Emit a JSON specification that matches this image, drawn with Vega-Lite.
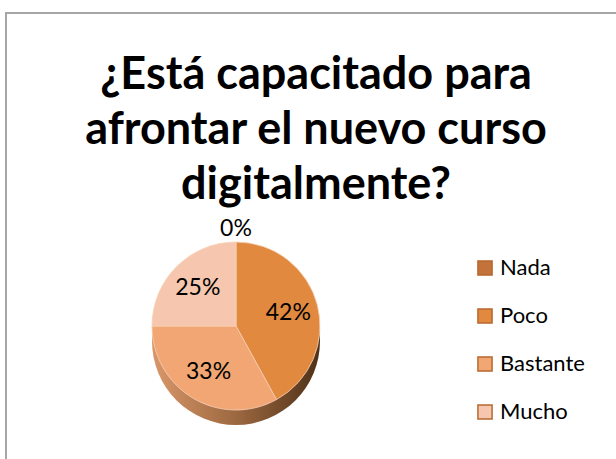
{
  "$schema": "https://vega.github.io/schema/vega-lite/v6.json",
  "width": 620,
  "height": 450,
  "autosize": {"type": "none"},
  "padding": {"left": 6, "top": 13, "right": 0, "bottom": 0},
  "background": "white",
  "view": {"stroke": "#a6a6a6", "strokeWidth": 2, "fill": "white"},
  "config": {
    "font": "Lato"
  },
  "title": {
    "text": ["¿Está capacitado para", "afrontar el nuevo curso", "digitalmente?"],
    "font": "Lato",
    "fontSize": 45,
    "fontWeight": "bold",
    "color": "#000000",
    "lineHeight": 55,
    "anchor": "middle",
    "frame": "group",
    "orient": "top",
    "baseline": "top",
    "offset": -195
  },
  "data": {
    "values": [
      {"answer": "Nada", "value": 0, "order": 1},
      {"answer": "Poco", "value": 0.42, "order": 2},
      {"answer": "Bastante", "value": 0.33, "order": 3},
      {"answer": "Mucho", "value": 0.25, "order": 4}
    ]
  },
  "layer": [
    {
      "transform": [{"aggregate": [{"op": "sum", "field": "value", "as": "total"}]}],
      "mark": {
        "type": "arc",
        "radius": 84,
        "x": 230,
        "y": 328,
        "color": {
          "gradient": "linear",
          "x1": 0, "y1": 0, "x2": 1, "y2": 0,
          "stops": [
            {"offset": 0, "color": "#d9976a"},
            {"offset": 0.5, "color": "#9c6840"},
            {"offset": 1, "color": "#4f3118"}
          ]
        }
      },
      "encoding": {
        "theta": {"field": "total", "type": "quantitative", "stack": true}
      }
    },
    {
      "mark": {"type": "arc", "radius": 84, "x": 230, "y": 313, "stroke": "#f7d2b8", "strokeWidth": 0.8},
      "encoding": {
        "theta": {"field": "value", "type": "quantitative", "stack": true},
        "order": {"field": "order", "type": "quantitative"},
        "color": {
          "field": "answer",
          "type": "nominal",
          "scale": {
            "domain": ["Nada", "Poco", "Bastante", "Mucho"],
            "range": ["#c3733a", "#e0893f", "#f1a674", "#f6c7ae"]
          },
          "legend": {
            "orient": "none",
            "legendX": 468,
            "legendY": 244,
            "title": null,
            "padding": 0,
            "symbolType": "square",
            "symbolSize": 200,
            "symbolStrokeColor": "#b8682f",
            "symbolStrokeWidth": 1.5,
            "symbolOpacity": 1,
            "labelFont": "Lato",
            "labelFontSize": 22,
            "labelColor": "#000000",
            "labelOffset": 4,
            "rowPadding": 26
          }
        }
      }
    },
    {
      "transform": [{"filter": "datum.value > 0"}],
      "mark": {"type": "text", "radius": 54, "x": 230, "y": 313, "fontSize": 23, "font": "Lato", "color": "#000000"},
      "encoding": {
        "theta": {"field": "value", "type": "quantitative", "stack": true},
        "order": {"field": "order", "type": "quantitative"},
        "text": {"field": "value", "type": "quantitative", "format": ".0%"}
      }
    },
    {
      "transform": [{"filter": "datum.value == 0"}],
      "mark": {"type": "text", "radius": 97, "x": 230, "y": 313, "fontSize": 23, "font": "Lato", "color": "#000000"},
      "encoding": {
        "theta": {"field": "value", "type": "quantitative", "stack": true},
        "order": {"field": "order", "type": "quantitative"},
        "text": {"field": "value", "type": "quantitative", "format": ".0%"}
      }
    }
  ]
}
